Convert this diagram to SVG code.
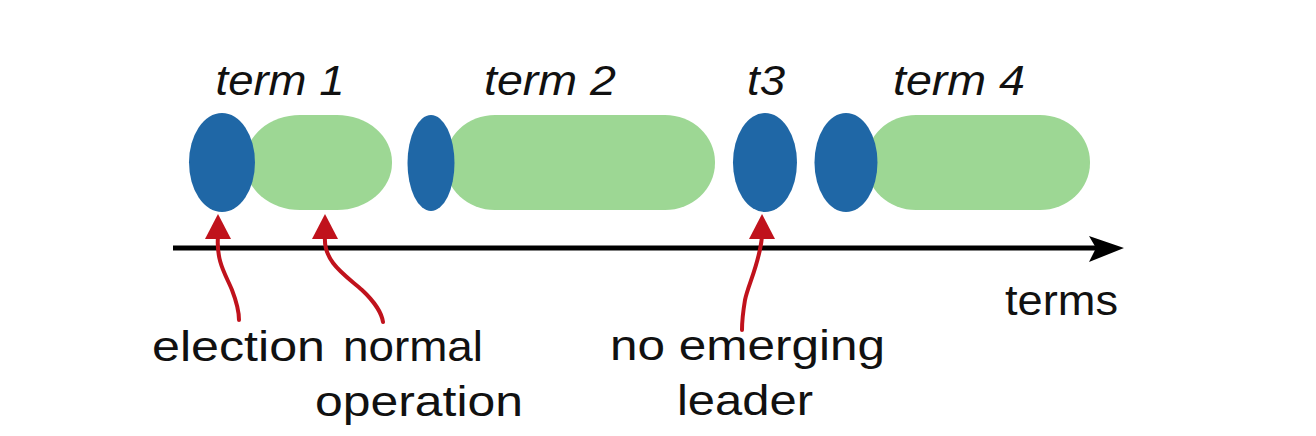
<svg xmlns="http://www.w3.org/2000/svg" width="1316" height="436" viewBox="0 0 1316 436">
<style>
.blue{fill:#1f67a6}
.green{fill:#9dd794}
.term{font-family:"Liberation Sans",Arial,sans-serif;font-style:italic;font-size:42px;fill:#111;text-anchor:middle}
.lbl{font-family:"Liberation Sans",Arial,sans-serif;font-size:42px;fill:#111}
.red{fill:none;stroke:#c0121c;stroke-width:4;stroke-linecap:round}
.redhead{fill:#c0121c}
</style>
<rect width="1316" height="436" fill="#ffffff"/>
<g id="term1">
<rect class="green" x="245" y="115" width="147" height="95" rx="55" ry="47"/>
<ellipse id="election1" class="blue" cx="222" cy="162.5" rx="33" ry="49.5"/>
<text class="term" x="280" y="95" textLength="129" lengthAdjust="spacingAndGlyphs">term 1</text>
</g>
<g id="term2">
<rect class="green" x="445" y="115" width="270" height="95" rx="50" ry="47"/>
<ellipse id="election2" class="blue" cx="431" cy="163" rx="23.5" ry="48"/>
<text class="term" x="550" y="95" textLength="132" lengthAdjust="spacingAndGlyphs">term 2</text>
</g>
<g id="term3">
<ellipse id="election3" class="blue" cx="765" cy="162.5" rx="32" ry="49.5"/>
<text class="term" x="766" y="95" textLength="38" lengthAdjust="spacingAndGlyphs">t3</text>
</g>
<g id="term4">
<rect class="green" x="866" y="115" width="224" height="95" rx="50" ry="47"/>
<ellipse id="election4" class="blue" cx="846" cy="162.5" rx="31.5" ry="49.5"/>
<text class="term" x="959" y="95" textLength="132" lengthAdjust="spacingAndGlyphs">term 4</text>
</g>
<g id="axis">
<line x1="173" y1="248" x2="1100" y2="248" stroke="#000" stroke-width="5"/>
<path d="M1124,248 L1089,236 L1096,248 L1089,262 Z" fill="#000"/>
<text class="lbl" x="1005" y="315" textLength="113" lengthAdjust="spacingAndGlyphs">terms</text>
</g>
<g id="connectors">
<path class="red" d="M218,236 C216,262 226,275 232,290 C237,303 239,312 239,320"/>
<path class="redhead" d="M218,214 L231,239 L205,239 Z"/>
<path class="red" d="M325,236 C323,262 345,275 362,290 C376,303 382,315 383,322"/>
<path class="redhead" d="M325,214 L338,239 L312,239 Z"/>
<path class="red" d="M762,236 C760,262 748,285 745,300 C743,312 742,320 742,330"/>
<path class="redhead" d="M762,214 L775,239 L749,239 Z"/>
</g>
<g id="labels">
<text class="lbl" x="152" y="361" textLength="173" lengthAdjust="spacingAndGlyphs">election</text>
<text class="lbl" x="343" y="361" textLength="140" lengthAdjust="spacingAndGlyphs">normal</text>
<text class="lbl" x="315" y="416" textLength="208" lengthAdjust="spacingAndGlyphs">operation</text>
<text class="lbl" x="610" y="360" textLength="275" lengthAdjust="spacingAndGlyphs">no emerging</text>
<text class="lbl" x="677" y="415" textLength="136" lengthAdjust="spacingAndGlyphs">leader</text>
</g>
</svg>
